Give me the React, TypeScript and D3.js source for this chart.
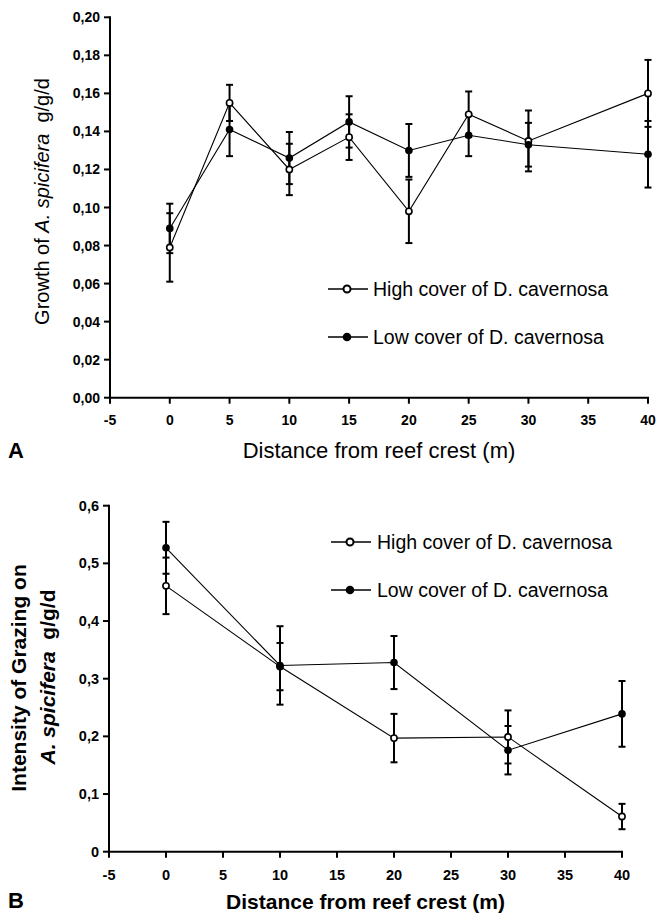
import React from "react";
import * as d3 from "d3";

// ---- Data ----
const distA = [0, 5, 10, 15, 20, 25, 30, 40];
const highA = [0.079, 0.155, 0.120, 0.137, 0.098, 0.149, 0.135, 0.160];
const highAErr = [0.018, 0.0095, 0.0135, 0.012, 0.0167, 0.012, 0.016, 0.0176];
const lowA = [0.089, 0.141, 0.126, 0.145, 0.130, 0.138, 0.133, 0.128];
const lowAErr = [0.013, 0.014, 0.0137, 0.0135, 0.0139, 0.011, 0.0115, 0.0175];

const distB = [0, 10, 20, 30, 40];
const highB = [0.461, 0.321, 0.197, 0.199, 0.061];
const highBErr = [0.049, 0.041, 0.042, 0.046, 0.022];
const lowB = [0.527, 0.323, 0.328, 0.176, 0.239];
const lowBErr = [0.045, 0.068, 0.046, 0.042, 0.057];

const xTicks = [-5, 0, 5, 10, 15, 20, 25, 30, 35, 40];
const yTicksA = [0, 0.02, 0.04, 0.06, 0.08, 0.1, 0.12, 0.14, 0.16, 0.18, 0.2];
const yTicksB = [0, 0.1, 0.2, 0.3, 0.4, 0.5, 0.6];

const legendLabels = ["High cover of D. cavernosa", "Low cover of D. cavernosa"];

const FONT = "'Liberation Sans', Arial, Helvetica, sans-serif";

type Series = { x: number[]; y: number[]; e: number[]; open: boolean };

function Panel(props: {
  left: number; right: number; top: number; bottom: number;
  yMax: number; yTicks: number[]; yFmt: (v: number) => string;
  series: Series[]; tickFont: number;
  xTitle: string; xTitleY: number; xTitleBold: boolean; xTitleSize: number;
  tickLabelY: number; panelLetter: string; letterY: number;
  legendX: number; legendY: number[]; legendTextX: number;
}) {
  const x = d3.scaleLinear().domain([-5, 40]).range([props.left, props.right]);
  const y = d3.scaleLinear().domain([0, props.yMax]).range([props.bottom, props.top]);
  const line = d3.line<[number, number]>().x(d => x(d[0])).y(d => y(d[1]));
  const tick = 6;
  const cap = 3.5;
  return (
    <g fontFamily={FONT}>
      {/* axes */}
      <line x1={props.left} x2={props.left} y1={props.top - 1} y2={props.bottom + 1} stroke="#000" strokeWidth={2} />
      <line x1={props.left - 1} x2={props.right + 1} y1={props.bottom} y2={props.bottom} stroke="#000" strokeWidth={2} />
      {props.yTicks.map((t, i) => (
        <g key={"yt" + i}>
          <line x1={props.left - tick} x2={props.left} y1={y(t)} y2={y(t)} stroke="#000" strokeWidth={2} />
          <text x={props.left - 10} y={y(t)} textAnchor="end" dominantBaseline="central"
            fontWeight="bold" fontSize={props.tickFont}>{props.yFmt(t)}</text>
        </g>
      ))}
      {xTicks.map((t, i) => (
        <g key={"xt" + i}>
          <line x1={x(t)} x2={x(t)} y1={props.bottom} y2={props.bottom + tick} stroke="#000" strokeWidth={2} />
          <text x={x(t)} y={props.tickLabelY} textAnchor="middle" dominantBaseline="central"
            fontWeight="bold" fontSize={props.tickFont}>{String(t)}</text>
        </g>
      ))}
      {/* lines */}
      {props.series.map((s, si) => (
        <path key={"l" + si} d={line(s.x.map((v, i) => [v, s.y[i]] as [number, number])) || ""}
          fill="none" stroke="#000" strokeWidth={1.1} />
      ))}
      {/* error bars */}
      {props.series.map((s, si) => (
        <g key={"e" + si}>
          {s.x.map((v, i) => {
            const cx = x(v);
            const y1 = y(s.y[i] + s.e[i]);
            const y2 = y(s.y[i] - s.e[i]);
            return (
              <g key={i} stroke="#000" strokeWidth={2}>
                <line x1={cx} x2={cx} y1={y1} y2={y2} />
                <line x1={cx - cap} x2={cx + cap} y1={y1} y2={y1} />
                <line x1={cx - cap} x2={cx + cap} y1={y2} y2={y2} />
              </g>
            );
          })}
        </g>
      ))}
      {/* markers */}
      {props.series.map((s, si) => (
        <g key={"m" + si}>
          {s.x.map((v, i) => (
            s.open
              ? <circle key={i} cx={x(v)} cy={y(s.y[i])} r={3.1} fill="#fff" stroke="#000" strokeWidth={1.6} />
              : <circle key={i} cx={x(v)} cy={y(s.y[i])} r={3.8} fill="#000" />
          ))}
        </g>
      ))}
      {/* legend */}
      {legendLabels.map((lab, i) => (
        <g key={"lg" + i}>
          <line x1={props.legendX - 19} x2={props.legendX + 21} y1={props.legendY[i]} y2={props.legendY[i]} stroke="#000" strokeWidth={1.3} />
          {i === 0
            ? <circle cx={props.legendX} cy={props.legendY[i]} r={3.5} fill="#fff" stroke="#000" strokeWidth={2} />
            : <circle cx={props.legendX} cy={props.legendY[i]} r={4.3} fill="#000" />}
          <text x={props.legendTextX} y={props.legendY[i]} dominantBaseline="central" fontSize={19.5}>{lab}</text>
        </g>
      ))}
      {/* x title */}
      <text x={(props.left + props.right) / 2} y={props.xTitleY} textAnchor="middle" dominantBaseline="central"
        fontSize={props.xTitleSize} fontWeight={props.xTitleBold ? "bold" : "normal"}>{props.xTitle}</text>
      <text x={8} y={props.letterY} dominantBaseline="central" fontSize={22} fontWeight="bold">{props.panelLetter}</text>
    </g>
  );
}

export default function App() {
  const fmtA = (v: number) => d3.format(".2f")(v).replace(".", ",");
  const fmtB = (v: number) => (v === 0 ? "0" : d3.format(".1f")(v).replace(".", ","));
  return (
    <svg width={660} height={913} style={{ position: "absolute", left: 0, top: 0, background: "#fff" }}>
      <rect x={0} y={0} width={660} height={913} fill="#fff" />
      <Panel left={110} right={648} top={17.3} bottom={397.7} yMax={0.2} yTicks={yTicksA} yFmt={fmtA}
        series={[
          { x: distA, y: highA, e: highAErr, open: true },
          { x: distA, y: lowA, e: lowAErr, open: false },
        ]}
        tickFont={14}
        xTitle="Distance from reef crest (m)" xTitleY={450} xTitleBold={false} xTitleSize={22}
        tickLabelY={420} panelLetter="A" letterY={450}
        legendX={347} legendY={[289, 337]} legendTextX={373} />
      <text transform="translate(42,201.5) rotate(-90)" textAnchor="middle" dominantBaseline="central"
        fontFamily={FONT} fontSize={20}>
        Growth of <tspan fontStyle="italic">A. spicifera</tspan>{"\u00a0\u00a0"}g/g/d
      </text>

      <Panel left={109} right={622} top={505.7} bottom={851.7} yMax={0.6} yTicks={yTicksB} yFmt={fmtB}
        series={[
          { x: distB, y: highB, e: highBErr, open: true },
          { x: distB, y: lowB, e: lowBErr, open: false },
        ]}
        tickFont={14.5}
        xTitle="Distance from reef crest (m)" xTitleY={901} xTitleBold={true} xTitleSize={21}
        tickLabelY={875} panelLetter="B" letterY={900}
        legendX={350} legendY={[542, 590]} legendTextX={377} />
      <g fontFamily={FONT} fontWeight="bold" fontSize={21}>
        <text transform="translate(18,678) rotate(-90)" textAnchor="middle" dominantBaseline="central">
          Intensity of Grazing on
        </text>
        <text transform="translate(47,677) rotate(-90)" textAnchor="middle" dominantBaseline="central">
          <tspan fontStyle="italic">A. spicifera</tspan>{"\u00a0\u00a0"}g/g/d
        </text>
      </g>
    </svg>
  );
}
